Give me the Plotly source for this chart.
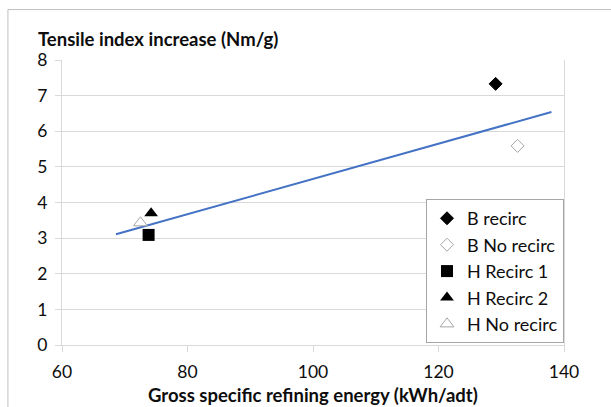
import plotly.graph_objects as go

# Data
series_names = ["B recirc", "B No recirc", "H Recirc 1", "H Recirc 2", "H No recirc"]
energy = [129.1, 132.6, 73.8, 74.2, 72.5]
tensile = [7.33, 5.59, 3.09, 3.70, 3.43]

trend_x = [68.6, 138.0]
trend_y = [3.11, 6.54]

x_ticks = [60, 80, 100, 120, 140]
y_ticks = [0, 1, 2, 3, 4, 5, 6, 7, 8]

styles = [
    dict(symbol="diamond", size=10, color="black", line=dict(color="black", width=1)),
    dict(symbol="diamond", size=10, color="white", line=dict(color="#a6a6a6", width=1)),
    dict(symbol="square", size=12, color="black", line=dict(color="black", width=0)),
    dict(symbol="triangle-up", size=12, color="black", line=dict(color="black", width=0)),
    dict(symbol="triangle-up", size=12, color="white", line=dict(color="#a6a6a6", width=1)),
]

FONT = "Lato, Calibri, Carlito, sans-serif"
GRID = "#d9d9d9"
TXT = "#0d0d0d"

fig = go.Figure()

fig.add_trace(go.Scatter(
    x=trend_x, y=trend_y, mode="lines",
    line=dict(color="#4472C4", width=2), showlegend=False, hoverinfo="skip",
))

for name, xv, yv, st in zip(series_names, energy, tensile, styles):
    fig.add_trace(go.Scatter(
        x=[xv], y=[yv], mode="markers", name=name, marker=st,
    ))

fig.update_layout(
    width=611, height=407,
    margin=dict(l=62, r=47, t=60, b=62, autoexpand=False),
    paper_bgcolor="white", plot_bgcolor="white",
    font=dict(family=FONT, size=17.5, color=TXT),
    showlegend=True,
    legend=dict(
        x=1.0, xanchor="right", y=0.512, yanchor="top",
        bgcolor="white", bordercolor="#a6a6a6", borderwidth=1,
        font=dict(size=18, family=FONT, color=TXT),
        itemwidth=30, tracegroupgap=0,
    ),
    xaxis=dict(
        range=[60, 140], tickvals=x_ticks, showgrid=False,
        showline=True, linecolor=GRID, linewidth=1, mirror=False,
        ticks="outside", ticklen=6, tickcolor=GRID, zeroline=False,
        ticklabelstandoff=5, automargin=False,
    ),
    yaxis=dict(
        range=[0, 8], tickvals=y_ticks, showgrid=True, gridcolor=GRID, gridwidth=1,
        showline=True, linecolor=GRID, linewidth=1, mirror=True,
        ticks="outside", ticklen=6, tickcolor=GRID, zeroline=False,
        ticklabelstandoff=4, automargin=False,
    ),
    annotations=[
        dict(
            text="<b>Tensile index increase (Nm/g)</b>",
            xref="paper", yref="paper", x=-0.052, y=1.072,
            xanchor="left", yanchor="middle", showarrow=False,
            font=dict(size=18.5, family=FONT, color=TXT),
        ),
        dict(
            text="<b>Gross specific refining energy (kWh/adt)</b>",
            xref="paper", yref="paper", x=0.5, y=-0.177,
            xanchor="center", yanchor="middle", showarrow=False,
            font=dict(size=18.5, family=FONT, color=TXT),
        ),
    ],
    shapes=[dict(
        type="rect", xref="paper", yref="paper",
        x0=-0.1077, x1=1.3, y0=-0.4, y1=1.177,
        line=dict(color="#bfbfbf", width=1), fillcolor="rgba(0,0,0,0)", layer="below",
    )],
)

fig.write_html("out.html")
